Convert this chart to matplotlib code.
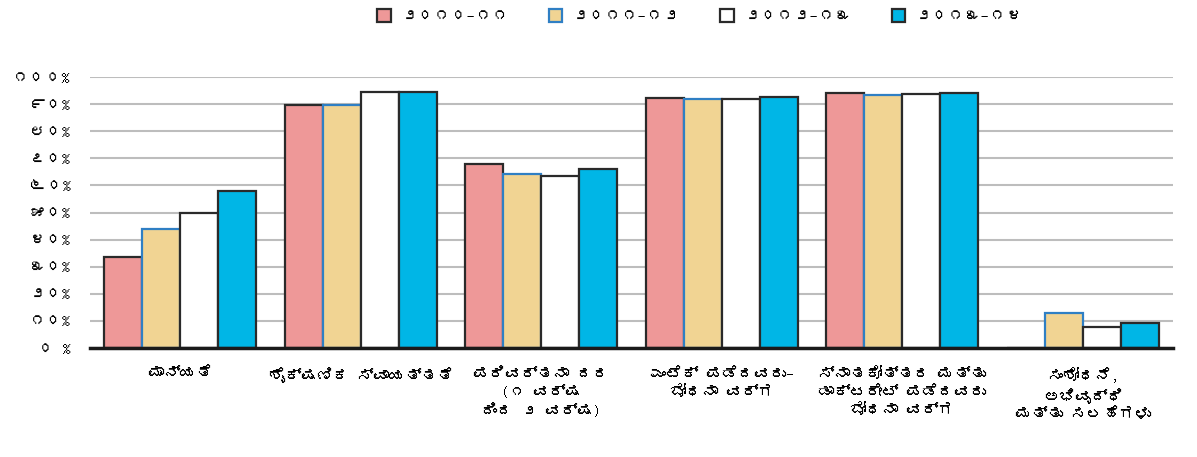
import numpy as np
import matplotlib
matplotlib.use('Agg')
import matplotlib.pyplot as plt
from matplotlib import font_manager
from matplotlib.ft2font import FT2Font

# data
categories = ['ಮಾನ್ಯತೆ',
              'ಶೈಕ್ಷಣಿಕ ಸ್ವಾಯತ್ತತೆ',
              'ಪರಿವರ್ತನಾ ದರ\n(೧ ವರ್ಷ\nದಿಂದ ೨ ವರ್ಷ)',
              'ಎಂಟೆಕ್ ಪಡೆದವರು–\nಬೋಧನಾ ವರ್ಗ',
              'ಸ್ನಾತಕೋತ್ತರ ಮತ್ತು\nಡಾಕ್ಟರೇಟ್ ಪಡೆದವರು\nಬೋಧನಾ ವರ್ಗ',
              'ಸಂಶೋಧನೆ,\nಅಭಿವೃದ್ಧಿ\nಮತ್ತು ಸಲಹೆಗಳು']
years = ['೨೦೧೦–೧೧', '೨೦೧೧–೧೨', '೨೦೧೨–೧೩', '೨೦೧೩–೧೪']
y2010 = [33.7, 89.5, 68.0, 92.4, 94.0, 0.0]
y2011 = [44.0, 89.5, 64.3, 92.0, 93.2, 13.1]
y2012 = [50.0, 94.6, 63.6, 92.0, 93.6, 7.9]
y2013 = [58.0, 94.6, 66.0, 92.6, 94.2, 9.4]
tick_vals = [0, 10, 20, 30, 40, 50, 60, 70, 80, 90, 100]
tick_labels = ['೦ %', '೧೦%', '೨೦%', '೩೦%', '೪೦%', '೫೦%', '೬೦%', '೭೦%', '೮೦%', '೯೦%', '೧೦೦%']


def kannada_family():
    for f in font_manager.fontManager.ttflist:
        try:
            if 0x0C95 in FT2Font(f.fname).get_charmap():
                return f.name
        except Exception:
            pass
    return None


kn = kannada_family()
plt.rcParams['font.family'] = [kn, 'DejaVu Sans'] if kn else ['DejaVu Sans']

series = [y2010, y2011, y2012, y2013]
fills = ['#ee9898', '#f1d493', '#ffffff', '#00b6e6']
edges = ['#2a2a2a', '#2f7fc4', '#2a2a2a', '#2a2a2a']

fig = plt.figure(figsize=(11.97, 4.57), dpi=100)
ax = fig.add_axes([0.0752, 0.2385, 0.9048, 0.593])

x = np.arange(len(categories))
w = 0.21
for i, (vals, fc, ec) in enumerate(zip(series, fills, edges)):
    ax.bar(x + (i - 1.5) * w, vals, w, color=fc, edgecolor=ec,
           linewidth=1.6, label=years[i], zorder=3)

ax.set_xlim(-0.5, len(categories) - 0.5)
ax.set_ylim(0, 100)
ax.set_yticks(tick_vals)
ax.set_yticklabels(tick_labels, fontsize=12, fontweight='bold')
ax.tick_params(axis='y', length=0, pad=14)
ax.yaxis.grid(True, color='#bdbdbd', linewidth=1.5, zorder=0)
ax.set_axisbelow(True)

ax.set_xticks(x)
ax.set_xticklabels(categories, fontsize=11.5, fontweight='bold',
                   linespacing=1.3, va='top')
ax.tick_params(axis='x', length=0, pad=14)

for s in ['top', 'right', 'left']:
    ax.spines[s].set_visible(False)
ax.spines['bottom'].set_linewidth(2.5)
ax.spines['bottom'].set_color('#1a1a1a')
ax.spines['bottom'].set_zorder(4)

fig.legend(loc='center', bbox_to_anchor=(0.585, 0.965), ncol=4, frameon=False,
           prop={'size': 12, 'weight': 'bold'}, handlelength=0.8,
           handleheight=0.8, columnspacing=2.4, handletextpad=0.6)

fig.savefig('out.png', dpi=100)
